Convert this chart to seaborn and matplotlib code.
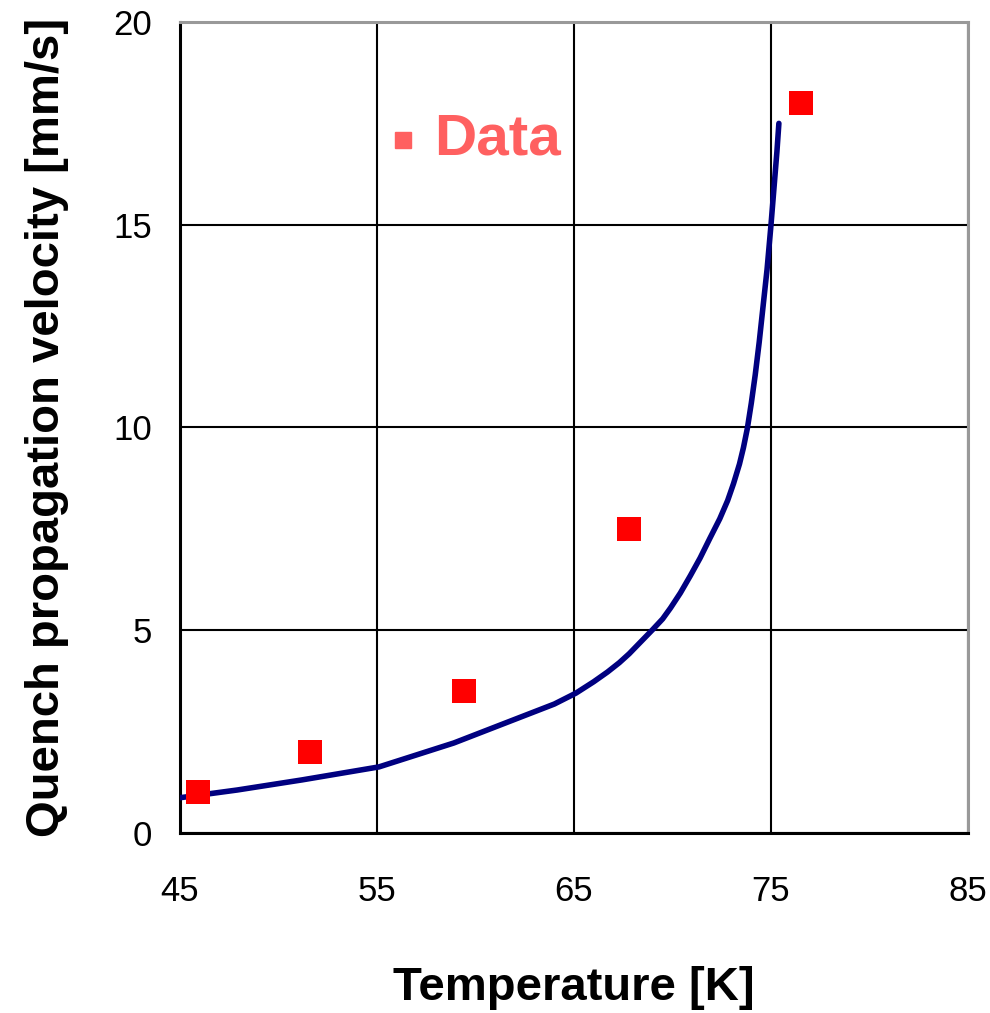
"""
Quench propagation velocity vs temperature: measured points and model curve
"""

import matplotlib
matplotlib.use('Agg')
import matplotlib.pyplot as plt
import seaborn as sns
import pandas as pd

data_temp = [45.9, 51.6, 59.4, 67.8, 76.5]
data_vel = [1.0, 2.0, 3.5, 7.5, 18.0]

# Model curve
curve_temp = [45.0, 47.9, 51.2, 55.1, 58.9, 62.3, 64.0, 65.1, 66.0, 66.7,
              67.3, 67.8, 68.2, 68.6, 69.0, 69.5, 69.9, 70.4, 70.9, 71.4,
              71.9, 72.4, 72.8, 73.1, 73.4, 73.6, 73.8, 74.0, 74.2, 74.4,
              74.6, 74.8, 75.0, 75.15, 75.3, 75.4]
curve_vel = [0.87, 1.06, 1.31, 1.63, 2.22, 2.86, 3.18, 3.45, 3.73, 3.97,
             4.2, 4.42, 4.62, 4.82, 5.02, 5.28, 5.55, 5.92, 6.34, 6.78,
             7.27, 7.75, 8.2, 8.62, 9.1, 9.5, 9.98, 10.6, 11.3, 12.1,
             13.0, 13.9, 15.0, 15.9, 16.8, 17.5]

x_ticks = [45, 55, 65, 75, 85]
y_ticks = [0, 5, 10, 15, 20]

sns.set_style('white')
plt.rcParams['font.family'] = ['Liberation Sans', 'DejaVu Sans']
plt.rcParams['text.color'] = 'black'
plt.rcParams['axes.labelcolor'] = 'black'
plt.rcParams['xtick.color'] = 'black'
plt.rcParams['ytick.color'] = 'black'

fig = plt.figure(figsize=(9.9, 10.13), dpi=100)
ax = fig.add_axes([180 / 990, 180 / 1013, 788 / 990, 811 / 1013])

curve_df = pd.DataFrame({'T': curve_temp, 'v': curve_vel})
data_df = pd.DataFrame({'T': data_temp, 'v': data_vel})

sns.lineplot(data=curve_df, x='T', y='v', ax=ax, color='#000080',
             linewidth=4, estimator=None, sort=False, zorder=3)
sns.scatterplot(data=data_df, x='T', y='v', ax=ax, color='#ff0000',
                marker='s', s=300, linewidth=0, zorder=4)

ax.set_xlim(45, 85)
ax.set_ylim(0, 20)
ax.set_xticks(x_ticks)
ax.set_yticks(y_ticks)
ax.grid(True, color='black', linewidth=1.5)
ax.set_axisbelow(True)
ax.tick_params(length=0, labelsize=25)
ax.tick_params(axis='x', pad=30)
ax.tick_params(axis='y', pad=20)

for side in ['left', 'bottom']:
    ax.spines[side].set_color('black')
    ax.spines[side].set_linewidth(2.2)
for side in ['top', 'right']:
    ax.spines[side].set_color('#999999')
    ax.spines[side].set_linewidth(2.2)

ax.set_xlabel('Temperature [K]', fontsize=34, fontweight='bold', labelpad=42)
ax.set_ylabel('Quench propagation velocity [mm/s]', fontsize=34,
              fontweight='bold', labelpad=32)

# Legend entry
ax.plot([56.3], [17.1], marker='s', color='#ff6060', markersize=11,
        linestyle='none')
ax.text(57.9, 17.1, 'Data', fontsize=42, fontweight='bold', color='#ff6060',
        va='center', ha='left')

plt.savefig('out.png', dpi=100)
